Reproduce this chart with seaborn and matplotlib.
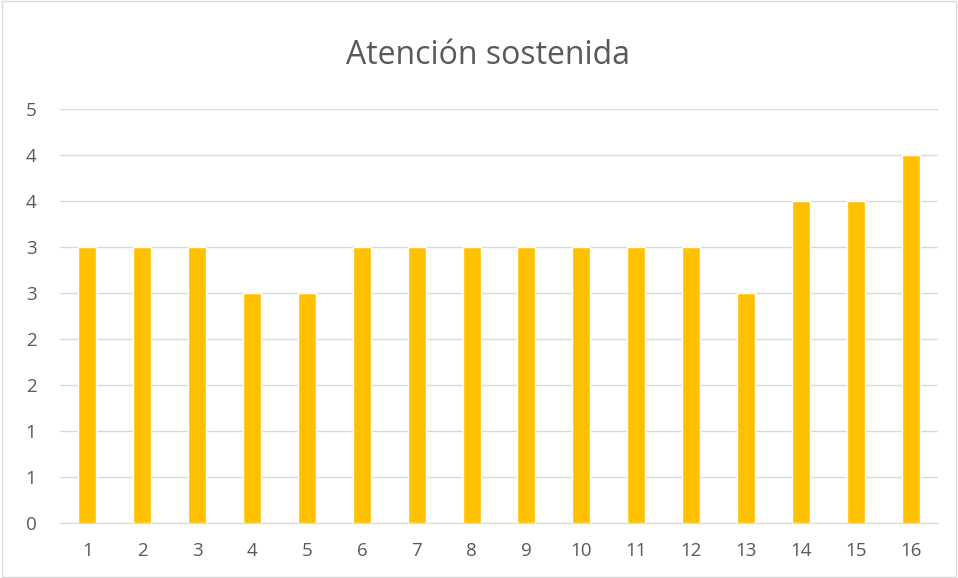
import numpy as np
import pandas as pd
import seaborn as sns
import matplotlib.pyplot as plt

# data
sessions = [str(i) for i in range(1, 17)]
scores = [3, 3, 3, 2.5, 2.5, 3, 3, 3, 3, 3, 3, 3, 2.5, 3.5, 3.5, 4]
y_ticks = [0, 0.5, 1, 1.5, 2, 2.5, 3, 3.5, 4, 4.5]
y_tick_labels = ["0", "1", "1", "2", "2", "3", "3", "4", "4", "5"]

df = pd.DataFrame({"sesion": sessions, "puntaje": scores})

sns.set_style("white")
plt.rcParams['font.family'] = ['Open Sans', 'DejaVu Sans']

fig = plt.figure(figsize=(9.58, 5.78), dpi=100)
ax = fig.add_axes([60 / 958, 55 / 578, 878 / 958, 414 / 578])

sns.barplot(data=df, x="sesion", y="puntaje", color="#FFC000", width=0.33,
            saturation=1, ax=ax, zorder=3)

ax.set_ylim(0, 4.5)
ax.set_yticks(y_ticks)
ax.set_yticklabels(y_tick_labels)
ax.yaxis.grid(True, color="#D9D9D9", linewidth=1, zorder=0)
ax.set_axisbelow(True)
for s in ["top", "right", "left"]:
    ax.spines[s].set_visible(False)
ax.spines["bottom"].set_color("#D9D9D9")
ax.tick_params(axis="both", length=0, labelsize=13.5, labelcolor="#595959")
ax.tick_params(axis="y", pad=17)
ax.tick_params(axis="x", pad=14)
ax.set_xlabel("")
ax.set_ylabel("")

fig.text(488 / 958, 1 - 55 / 578, "Atención sostenida", ha="center", va="center",
         fontsize=23, color="#595959")

# thin frame around chart area
fig.patches.append(plt.Rectangle((0.002, 0.002), 0.996, 0.996, transform=fig.transFigure,
                                 fill=False, edgecolor="#D9D9D9", linewidth=1))

fig.savefig("out.png", dpi=100)
